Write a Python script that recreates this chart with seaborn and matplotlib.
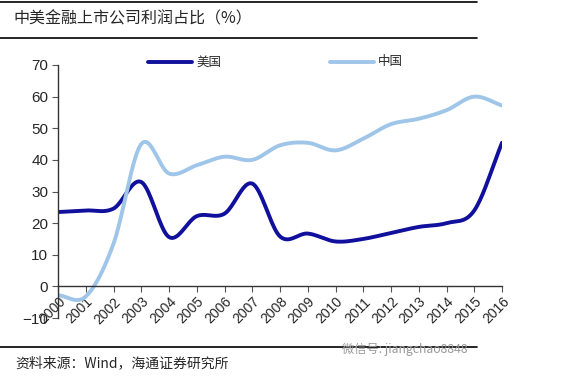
import numpy as np
import pandas as pd
import seaborn as sns
import matplotlib.pyplot as plt

# values (%)
years = list(range(2000, 2017))
us = [23.5, 24.0, 24.6, 33.0, 15.6, 22.2, 23.0, 32.5, 15.8, 16.7,
      14.2, 15.0, 16.9, 18.8, 20.0, 24.0, 45.4]
cn = [-2.8, -3.2, 13.5, 45.0, 35.7, 38.3, 41.0, 40.0, 44.6, 45.4,
      43.0, 46.7, 51.3, 53.0, 55.7, 60.0, 57.2]
series_names = ["美国", "中国"]
yticks = list(range(-10, 80, 10))


def smooth(x, y, n=20):
    # catmull-rom through the points, like excel's smoothed line
    x = np.asarray(x, float)
    y = np.asarray(y, float)
    px = np.concatenate([[2 * x[0] - x[1]], x, [2 * x[-1] - x[-2]]])
    py = np.concatenate([[2 * y[0] - y[1]], y, [2 * y[-1] - y[-2]]])
    xs, ys = [], []
    t = np.linspace(0, 1, n, endpoint=False)
    for i in range(1, len(px) - 2):
        for p, out in ((px, xs), (py, ys)):
            p0, p1, p2, p3 = p[i - 1], p[i], p[i + 1], p[i + 2]
            out.extend(0.5 * (2 * p1 + (-p0 + p2) * t
                              + (2 * p0 - 5 * p1 + 4 * p2 - p3) * t ** 2
                              + (-p0 + 3 * p1 - 3 * p2 + p3) * t ** 3))
    xs.append(x[-1])
    ys.append(y[-1])
    return xs, ys


frames = []
for name, vals in zip(series_names, [us, cn]):
    sx, sy = smooth(years, vals)
    frames.append(pd.DataFrame({"year": sx, "value": sy, "series": name}))
df = pd.concat(frames, ignore_index=True)

sns.set_style("white")
plt.rcParams["font.family"] = ["Liberation Sans", "Noto Sans CJK SC", "DejaVu Sans"]

fig = plt.figure(figsize=(5.8, 3.78), dpi=100)
ax = fig.add_axes([58 / 580, 1 - 318 / 378, 444 / 580, 253 / 378])

palette = {"美国": "#10109c", "中国": "#9fc5e8"}
sns.lineplot(data=df, x="year", y="value", hue="series", palette=palette,
             linewidth=2.8, sort=False, estimator=None, ax=ax, legend=False)

# spine position first: moving it resets the ticks
for s in ["top", "right"]:
    ax.spines[s].set_visible(False)
ax.spines["bottom"].set_position(("data", 0))
for s in ["left", "bottom"]:
    ax.spines[s].set_color("#333333")
    ax.spines[s].set_linewidth(1.0)

ax.set_xlim(2000, 2016)
ax.set_ylim(-10, 70)
ax.set_yticks(yticks)
ax.set_xticks(years)
ax.tick_params(axis="y", labelsize=11, length=4, direction="out", left=True,
               color="#555555", pad=3)
ax.tick_params(axis="x", length=4, direction="out", bottom=True,
               color="#555555", pad=2)
ax.set_xticklabels([str(y) for y in years], fontsize=10, rotation=45,
                   ha="right", rotation_mode="anchor")
ax.set_xlabel("")
ax.set_ylabel("")

# legend drawn by hand in figure pixels
for name, x0 in zip(series_names, [148, 330]):
    fig.add_artist(plt.Line2D([x0 / 580, (x0 + 44) / 580], [1 - 62 / 378] * 2,
                              color=palette[name], lw=2.8))
    fig.text((x0 + 48) / 580, 1 - 62 / 378, name, fontsize=9,
             va="center", family=["Noto Sans CJK SC"])

# title and frame lines
fig.text(13 / 580, 1 - 19 / 378, "中美金融上市公司利润占比（%）", fontsize=11.5,
         va="center", family=["Noto Sans CJK SC", "DejaVu Sans"])
for yy in [2, 38, 347]:
    fig.add_artist(plt.Line2D([0, 477 / 580], [1 - yy / 378] * 2,
                              color="black", lw=1.2))
fig.text(15 / 580, 1 - 363 / 378, "资料来源：Wind，海通证券研究所", fontsize=10,
         va="center", family=["Noto Sans CJK SC", "DejaVu Sans"])
fig.text(342 / 580, 1 - 349 / 378, "微信号: jiangchao8848", fontsize=8.8,
         va="center", color="#9a9a9a", family=["Noto Sans CJK SC", "DejaVu Sans"])

fig.savefig("out.png", dpi=100)
